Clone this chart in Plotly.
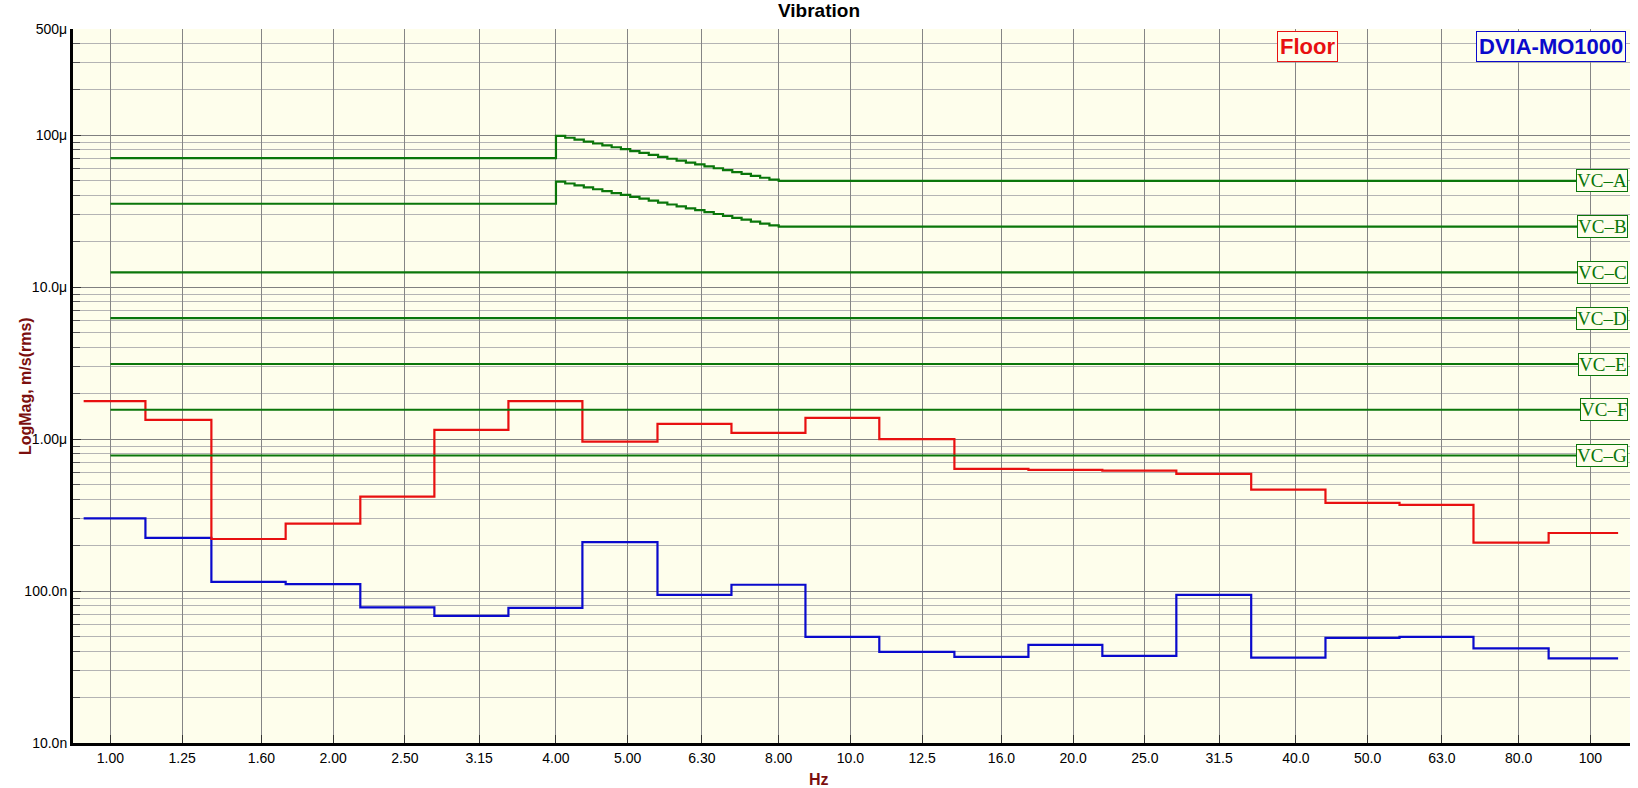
import math
import plotly.graph_objects as go

# 1/3 octave band nominal centres (Hz) and their axis labels
band_hz = [1.00, 1.25, 1.60, 2.00, 2.50, 3.15, 4.00, 5.00, 6.30, 8.00, 10.0,
           12.5, 16.0, 20.0, 25.0, 31.5, 40.0, 50.0, 63.0, 80.0, 100.0]
band_labels = ["1.00", "1.25", "1.60", "2.00", "2.50", "3.15", "4.00", "5.00",
               "6.30", "8.00", "10.0", "12.5", "16.0", "20.0", "25.0", "31.5",
               "40.0", "50.0", "63.0", "80.0", "100"]

# band edges as the analyser draws them (Hz), 21 bands -> 22 edges
band_edges_hz = [0.92, 1.115, 1.369, 1.725, 2.176, 2.740, 3.450, 4.343, 5.486,
                 6.906, 8.694, 10.94, 13.82, 17.40, 21.90, 27.57, 34.80, 43.85,
                 55.21, 69.50, 87.81, 109.0]

# band levels, um/s rms
floor_ums = [1.78, 1.34, 0.220, 0.278, 0.418, 1.15, 1.78, 0.962, 1.26, 1.10,
             1.38, 1.00, 0.636, 0.627, 0.620, 0.590, 0.465, 0.380, 0.369,
             0.208, 0.241]
dvia_ums = [0.301, 0.224, 0.115, 0.111, 0.078, 0.0687, 0.0775, 0.210, 0.0944,
            0.110, 0.0500, 0.0398, 0.0369, 0.0443, 0.0375, 0.0944, 0.0365,
            0.0492, 0.0500, 0.0419, 0.0360]

# VC-A / VC-B criteria curves (staircase between 4 and 8 Hz), um/s
vc_step_hz = [1.0, 4.0, 4.117, 4.238, 4.362, 4.490, 4.621, 4.757, 4.896, 5.040,
              5.187, 5.339, 5.496, 5.657, 5.823, 5.993, 6.169, 6.350, 6.536,
              6.727, 6.924, 7.127, 7.336, 7.551, 7.772, 8.0, 100.0]
vc_a_ums = [70.7, 99, 96.2, 93.5, 90.8, 88.2, 85.7, 83.3, 80.9, 78.6, 76.4,
            74.2, 72.1, 70.0, 68.0, 66.1, 64.2, 62.4, 60.6, 58.9, 57.2, 55.6,
            54.0, 52.5, 51.0, 50.0, 50.0]
vc_b_ums = [35.4, 49.5, 48.1, 46.7, 45.4, 44.1, 42.9, 41.6, 40.5, 39.3, 38.2,
            37.1, 36.0, 35.0, 34.0, 33.0, 32.1, 31.2, 30.3, 29.4, 28.6, 27.8,
            27.0, 26.2, 25.5, 25.0, 25.0]

# flat criteria
vc_flat_names = ["VC\u2013C", "VC\u2013D", "VC\u2013E", "VC\u2013F", "VC\u2013G"]
vc_flat_ums = [12.5, 6.25, 3.12, 1.56, 0.78]
vc_flat_hz = [1.0, 100.0]

# y axis ticks
y_tickvals = [1e-8, 1e-7, 1e-6, 1e-5, 1e-4, 5e-4]
y_ticktext = ["10.0n", "100.0n", "1.00\u03bc", "10.0\u03bc", "100\u03bc", "500\u03bc"]

GREEN = "#0A760A"
RED = "#E81010"
BLUE = "#0A0ACC"
BG = "#FEFEEC"
DARKRED = "#7B0F0F"

fig = go.Figure()

fig.add_trace(go.Scatter(
    x=band_edges_hz, y=[v * 1e-6 for v in dvia_ums + dvia_ums[-1:]],
    mode="lines", line=dict(color=BLUE, width=2.2, shape="hv"),
    name="DVIA-MO1000"))
fig.add_trace(go.Scatter(
    x=band_edges_hz, y=[v * 1e-6 for v in floor_ums + floor_ums[-1:]],
    mode="lines", line=dict(color=RED, width=2.2, shape="hv"),
    name="Floor"))

for vals in (vc_a_ums, vc_b_ums):
    fig.add_trace(go.Scatter(
        x=vc_step_hz, y=[v * 1e-6 for v in vals],
        mode="lines", line=dict(color=GREEN, width=2.2, shape="hv")))
for v in vc_flat_ums:
    fig.add_trace(go.Scatter(
        x=vc_flat_hz, y=[v * 1e-6] * 2,
        mode="lines", line=dict(color=GREEN, width=2.2)))

# VC labels at right edge
vc_names = ["VC\u2013A", "VC\u2013B"] + vc_flat_names
vc_levels = [vc_a_ums[-1], vc_b_ums[-1]] + vc_flat_ums
for name, v in zip(vc_names, vc_levels):
    fig.add_annotation(
        x=0.9985, xref="paper", xanchor="right",
        y=math.log10(v * 1e-6), yref="y", yanchor="middle",
        text=name, showarrow=False,
        font=dict(family="Liberation Serif", size=19, color=GREEN),
        bgcolor=BG, bordercolor=GREEN, borderwidth=1, borderpad=0)

# legend-style boxes
fig.add_annotation(
    x=0.793, xref="paper", xanchor="center", y=0.997, yref="paper", yanchor="top",
    text="<b>Floor</b>", showarrow=False,
    font=dict(family="Liberation Sans", size=22, color=RED),
    bgcolor=BG, bordercolor=RED, borderwidth=1, borderpad=2)
fig.add_annotation(
    x=0.9974, xref="paper", xanchor="right", y=0.997, yref="paper", yanchor="top",
    text="<b>DVIA-MO1000</b>", showarrow=False,
    font=dict(family="Liberation Sans", size=22, color=BLUE),
    bgcolor=BG, bordercolor=BLUE, borderwidth=1, borderpad=2)

# axis titles
fig.add_annotation(
    x=-0.0375, xref="paper", y=0.5, yref="paper", textangle=-90,
    text="<b>LogMag, m/s(rms)</b>", showarrow=False,
    font=dict(family="Liberation Sans", size=16, color=DARKRED))
fig.add_annotation(
    x=0.479, xref="paper", y=-0.036, yref="paper", yanchor="top",
    text="<b>Hz</b>", showarrow=False,
    font=dict(family="Liberation Sans", size=16, color=DARKRED))

minor_vals = [k * 10.0 ** e for e in range(-8, -3) for k in range(2, 10)
              if k * 10.0 ** e < 4.5e-4]

fig.update_layout(
    width=1638, height=788,
    margin=dict(l=73, r=8, t=29, b=45),
    paper_bgcolor="white", plot_bgcolor=BG,
    showlegend=False,
    title=dict(text="<b>Vibration</b>", x=0.5, xref="container", xanchor="center",
               y=1 - 10 / 788, yref="container", yanchor="middle",
               font=dict(family="Liberation Sans", size=19, color="black")),
    font=dict(family="Liberation Sans", size=14, color="black"),
)

fig.update_xaxes(
    type="log", range=[-0.0506, 2.0535],
    tickmode="array", tickvals=band_hz, ticktext=band_labels,
    showgrid=True, gridcolor="#858585", gridwidth=1,
    ticks="inside", ticklen=8, tickcolor="#333333",
    showline=True, linecolor="black", linewidth=3,
    zeroline=False, tickfont=dict(size=14, color="black"))

fig.update_yaxes(
    type="log", range=[-8, -3.30103],
    tickmode="array", tickvals=y_tickvals, ticktext=y_ticktext,
    showgrid=True, gridcolor="#808080", gridwidth=1,
    ticks="inside", ticklen=8, tickcolor="#333333",
    showline=True, linecolor="black", linewidth=3,
    zeroline=False, tickfont=dict(size=14, color="black"),
    minor=dict(tickmode="array", tickvals=minor_vals, showgrid=True,
               gridcolor="#B4B4B4", gridwidth=1, ticks="inside", ticklen=7,
               tickcolor="#555555"))

# remove the default page margin so the figure fills the window exactly
fig.write_html("out.html", config={"displayModeBar": False},
               post_script="document.body.style.margin='0';"
                           "document.body.style.padding='0';"
                           "document.body.style.overflow='hidden';")
